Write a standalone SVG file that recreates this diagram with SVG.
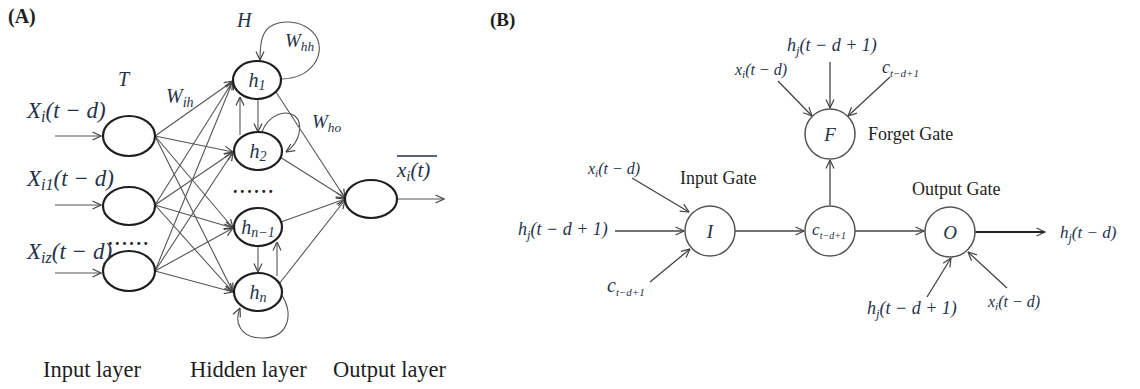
<svg xmlns="http://www.w3.org/2000/svg" width="1140" height="389" viewBox="0 0 1140 389">
<style>
.m{font-family:"Liberation Serif",serif;font-style:italic;fill:#26324a}
.t{font-family:"Liberation Serif",serif;fill:#1e1e1e}
.s{font-size:70%}
.nA{fill:#fff;stroke:#1e1e1e;stroke-width:2.2}
.nB{fill:#fff;stroke:#555;stroke-width:1.5}
.c{fill:none;stroke:#555;stroke-width:1.1}
.cb{fill:none;stroke:#444;stroke-width:1.3}
</style>
<defs>
<marker id="a" viewBox="0 0 10 10" refX="9.5" refY="5" markerWidth="10" markerHeight="10" markerUnits="userSpaceOnUse" orient="auto">
<path d="M1,1 L9.5,5 L1,9" fill="none" stroke="#444" stroke-width="1.2"/>
</marker>
</defs>
<rect width="1140" height="389" fill="#fff"/>
<text class="t" x="8" y="23" font-size="20" font-weight="bold">(A)</text>
<text class="t" x="490" y="26" font-size="19" font-weight="bold">(B)</text>

<g id="connectors">
<!-- Panel A inputs -->
<line class="c" x1="55" y1="136" x2="101" y2="136" marker-end="url(#a)"/>
<line class="c" x1="55" y1="205" x2="101" y2="205" marker-end="url(#a)"/>
<line class="c" x1="55" y1="273" x2="101" y2="273" marker-end="url(#a)"/>
<!-- input to hidden -->
<g class="c" marker-end="url(#a)">
<line x1="155" y1="136" x2="233" y2="81"/>
<line x1="155" y1="136" x2="233" y2="152"/>
<line x1="155" y1="136" x2="233" y2="228"/>
<line x1="155" y1="136" x2="233" y2="292"/>
<line x1="155" y1="205" x2="233" y2="81"/>
<line x1="155" y1="205" x2="233" y2="152"/>
<line x1="155" y1="205" x2="233" y2="228"/>
<line x1="155" y1="205" x2="233" y2="292"/>
<line x1="155" y1="271" x2="233" y2="81"/>
<line x1="155" y1="271" x2="233" y2="152"/>
<line x1="155" y1="271" x2="233" y2="228"/>
<line x1="155" y1="271" x2="233" y2="292"/>
</g>
<!-- hidden to output -->
<g class="c" marker-end="url(#a)">
<line x1="276" y1="92" x2="345" y2="198"/>
<line x1="280" y1="157" x2="345" y2="198"/>
<line x1="281" y1="222" x2="345" y2="199"/>
<line x1="279" y1="284" x2="345" y2="200"/>
</g>
<!-- hidden vertical -->
<line class="c" x1="258" y1="99" x2="258" y2="132" marker-end="url(#a)"/>
<line class="c" x1="240" y1="135" x2="240" y2="97" marker-end="url(#a)"/>
<line class="c" x1="258" y1="246" x2="258" y2="272" marker-end="url(#a)"/>
<line class="c" x1="277" y1="276" x2="277" y2="242" marker-end="url(#a)"/>
<!-- loops -->
<path class="c" d="M282,79 C312,78 325,55 317,38 C307,18 270,16 263,36 C260,43 260,50 260,60" marker-end="url(#a)"/>
<path class="c" d="M262,132 C268,115 285,109 295,116 C303,123 301,142 286,152" marker-end="url(#a)"/>
<path class="c" d="M281,294 C294,312 290,338 262,338 C240,338 234,322 240,308" marker-end="url(#a)"/>
<!-- output -->
<line class="c" x1="397" y1="199" x2="444" y2="199" marker-end="url(#a)"/>

<!-- Panel B -->
<g class="cb" marker-end="url(#a)">
<line x1="830" y1="62" x2="830" y2="108"/>
<line x1="778" y1="81" x2="812" y2="116"/>
<line x1="890" y1="77" x2="848" y2="116"/>
<line x1="830" y1="205" x2="830" y2="160"/>
<line x1="632" y1="178" x2="689" y2="212"/>
<line x1="615" y1="231" x2="684" y2="231"/>
<line x1="650" y1="282" x2="690" y2="249"/>
<line x1="735" y1="231" x2="804" y2="231"/>
<line x1="855" y1="231" x2="924" y2="231"/>
<line x1="927" y1="297" x2="951" y2="258"/>
<line x1="1007" y1="288" x2="968" y2="252"/>
</g>
<line x1="975" y1="232" x2="1045" y2="232" stroke="#222" stroke-width="2" marker-end="url(#a)"/>
</g>

<!-- Panel A nodes -->
<g id="in1"><ellipse class="nA" cx="129" cy="136" rx="26" ry="20"/></g>
<g id="in2"><ellipse class="nA" cx="129" cy="206" rx="26" ry="19"/></g>
<g id="in3"><ellipse class="nA" cx="129" cy="271" rx="26" ry="20"/></g>
<g id="h1"><ellipse class="nA" cx="257" cy="80" rx="24" ry="19"/><text class="m" x="257" y="87" font-size="20" text-anchor="middle">h<tspan class="s" dy="3">1</tspan></text></g>
<g id="h2"><ellipse class="nA" cx="258" cy="151" rx="24" ry="19"/><text class="m" x="258" y="158" font-size="20" text-anchor="middle">h<tspan class="s" dy="3">2</tspan></text></g>
<g id="hn1"><ellipse class="nA" cx="258" cy="227" rx="24" ry="19"/><text class="m" x="258" y="234" font-size="20" text-anchor="middle">h<tspan class="s" dy="3">n−1</tspan></text></g>
<g id="hn"><ellipse class="nA" cx="258" cy="292" rx="24" ry="19"/><text class="m" x="258" y="299" font-size="20" text-anchor="middle">h<tspan class="s" dy="3">n</tspan></text></g>
<g id="out"><ellipse class="nA" cx="371" cy="199" rx="26" ry="19"/></g>

<!-- Panel A labels -->
<g id="labelsA">
<text class="m" x="27" y="118" font-size="23">X<tspan class="s" dy="4">i</tspan><tspan dy="-4">(t − d)</tspan></text>
<text class="m" x="27" y="186" font-size="23">X<tspan class="s" dy="4">i1</tspan><tspan dy="-4">(t − d)</tspan></text>
<text class="m" x="27" y="259" font-size="23">X<tspan class="s" dy="4">iz</tspan><tspan dy="-4">(t − d)</tspan></text>
<text class="m" x="118" y="86" font-size="20">T</text>
<text class="m" x="166" y="103" font-size="20">W<tspan class="s" dy="4">ih</tspan></text>
<text class="m" x="237" y="27" font-size="20">H</text>
<text class="m" x="285" y="47" font-size="19">W<tspan class="s" dy="4">hh</tspan></text>
<text class="m" x="312" y="128" font-size="19">W<tspan class="s" dy="4">ho</tspan></text>
<text class="m" x="397" y="177" font-size="21">x<tspan class="s" dy="4">i</tspan><tspan dy="-4">(t)</tspan></text>
<line x1="397" y1="156" x2="437" y2="156" stroke="#26324a" stroke-width="1.3"/>
<text class="t" x="108" y="245" font-size="18" letter-spacing="2.6" font-weight="bold">......</text>
<text class="t" x="233" y="193" font-size="18" letter-spacing="2.6" font-weight="bold">......</text>
<text class="t" x="43" y="377" font-size="22.5">Input layer</text>
<text class="t" x="190" y="377" font-size="22.5">Hidden layer</text>
<text class="t" x="333" y="377" font-size="22.5">Output layer</text>
</g>

<!-- Panel B nodes -->
<g id="F"><circle class="nB" cx="830" cy="134" r="25"/><text class="m" x="830" y="141" font-size="19" text-anchor="middle" fill="#222">F</text></g>
<g id="I"><circle class="nB" cx="710" cy="231" r="25"/><text class="m" x="710" y="238" font-size="19" text-anchor="middle">I</text></g>
<g id="C"><circle class="nB" cx="830" cy="231" r="25"/><text class="m" x="829" y="235" font-size="17" text-anchor="middle">c<tspan font-size="10" dy="4">t−d+1</tspan></text></g>
<g id="O"><circle class="nB" cx="950" cy="232" r="25"/><text class="m" x="950" y="239" font-size="19" text-anchor="middle">O</text></g>

<g id="labelsB">
<text class="t" x="868" y="140" font-size="18">Forget Gate</text>
<text class="t" x="680" y="184" font-size="18">Input Gate</text>
<text class="t" x="912" y="195" font-size="18">Output Gate</text>
<text class="m" x="787" y="51" font-size="18">h<tspan class="s" dy="4">j</tspan><tspan dy="-4">(t − d + 1)</tspan></text>
<text class="m" x="735" y="75" font-size="16">x<tspan class="s" dy="3">i</tspan><tspan dy="-3">(t − d)</tspan></text>
<text class="m" x="882" y="73" font-size="18">c<tspan font-size="11" dy="4">t−d+1</tspan></text>
<text class="m" x="588" y="174" font-size="16">x<tspan class="s" dy="3">i</tspan><tspan dy="-3">(t − d)</tspan></text>
<text class="m" x="518" y="235" font-size="18">h<tspan class="s" dy="4">j</tspan><tspan dy="-4">(t − d + 1)</tspan></text>
<text class="m" x="607" y="292" font-size="20">c<tspan font-size="11" dy="4">t−d+1</tspan></text>
<text class="m" x="1060" y="238" font-size="17">h<tspan class="s" dy="4">j</tspan><tspan dy="-4">(t − d)</tspan></text>
<text class="m" x="867" y="314" font-size="18">h<tspan class="s" dy="4">j</tspan><tspan dy="-4">(t − d + 1)</tspan></text>
<text class="m" x="988" y="307" font-size="16">x<tspan class="s" dy="3">i</tspan><tspan dy="-3">(t − d)</tspan></text>
</g>
</svg>
